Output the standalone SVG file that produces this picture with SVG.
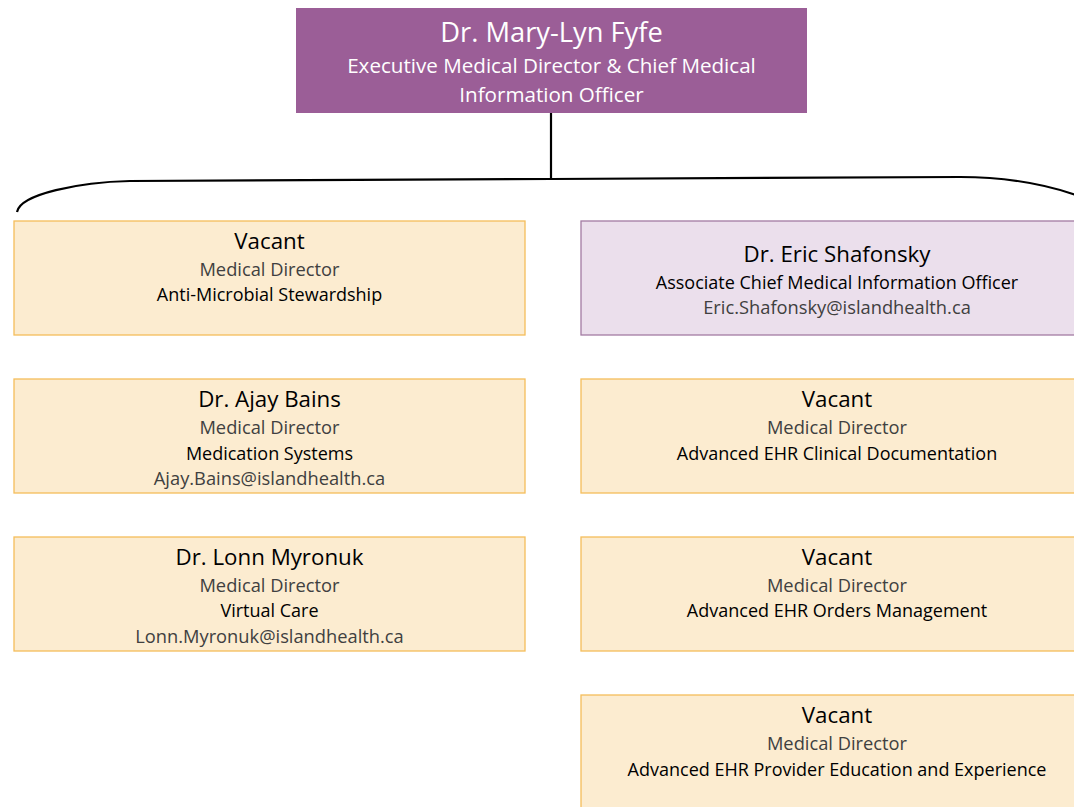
<svg xmlns="http://www.w3.org/2000/svg" width="1074" height="807" viewBox="0 0 1074 807">
<style>
text{font-family:"Open Sans","Liberation Sans",sans-serif;text-anchor:middle}
.box{fill:#fcecd0;stroke:#f5bd5a;stroke-width:1.3}
.pbox{fill:#ebdfec;stroke:#a37ba3;stroke-width:1.3}
.nm{font-size:22.3px;fill:#000}
.rl{font-size:18.3px;fill:#404040}
.dp{font-size:18px;fill:#000}
.em{font-size:18.3px;fill:#404040}
.conn{fill:none;stroke:#000;stroke-width:2.2}
</style>
<g id="connectors">
<path class="conn" d="M551,113 V179"/>
<path class="conn" d="M17,212 C20,194 80,182 130,181 L551,179 L960,177 C1010,177 1050,186 1076,195"/>
</g>
<g id="top">
<rect x="296" y="8" width="511" height="105" fill="#9b5e97"/>
<text x="551.5" y="42" style="font-size:27.3px;fill:#fff">Dr. Mary-Lyn Fyfe</text>
<text x="551.5" y="73" style="font-size:20.6px;fill:#fff">Executive Medical Director &amp; Chief Medical</text>
<text x="551.5" y="102" style="font-size:20.6px;fill:#fff">Information Officer</text>
</g>
<g id="n-ams">
<rect class="box" x="14" y="221" width="511" height="114"/>
<text class="nm" x="269.5" y="249">Vacant</text>
<text class="rl" x="269.5" y="276">Medical Director</text>
<text class="dp" x="269.5" y="301">Anti-Microbial Stewardship</text>
</g>
<g id="n-bains">
<rect class="box" x="14" y="379" width="511" height="114"/>
<text class="nm" x="269.5" y="407">Dr. Ajay Bains</text>
<text class="rl" x="269.5" y="434">Medical Director</text>
<text class="dp" x="269.5" y="460">Medication Systems</text>
<text class="em" x="269.5" y="485">Ajay.Bains@islandhealth.ca</text>
</g>
<g id="n-myronuk">
<rect class="box" x="14" y="537" width="511" height="114"/>
<text class="nm" x="269.5" y="565">Dr. Lonn Myronuk</text>
<text class="rl" x="269.5" y="592">Medical Director</text>
<text class="dp" x="269.5" y="617">Virtual Care</text>
<text class="em" x="269.5" y="643">Lonn.Myronuk@islandhealth.ca</text>
</g>
<g id="n-shafonsky">
<rect class="pbox" x="581" y="221" width="512" height="114"/>
<text class="nm" x="837" y="262">Dr. Eric Shafonsky</text>
<text class="dp" x="837" y="289">Associate Chief Medical Information Officer</text>
<text class="em" x="837" y="314">Eric.Shafonsky@islandhealth.ca</text>
</g>
<g id="n-doc">
<rect class="box" x="581" y="379" width="512" height="114"/>
<text class="nm" x="837" y="407">Vacant</text>
<text class="rl" x="837" y="434">Medical Director</text>
<text class="dp" x="837" y="460">Advanced EHR Clinical Documentation</text>
</g>
<g id="n-orders">
<rect class="box" x="581" y="537" width="512" height="114"/>
<text class="nm" x="837" y="565">Vacant</text>
<text class="rl" x="837" y="592">Medical Director</text>
<text class="dp" x="837" y="617">Advanced EHR Orders Management</text>
</g>
<g id="n-edu">
<rect class="box" x="581" y="695" width="512" height="130"/>
<text class="nm" x="837" y="723">Vacant</text>
<text class="rl" x="837" y="750">Medical Director</text>
<text class="dp" x="837" y="776">Advanced EHR Provider Education and Experience</text>
</g>
</svg>
